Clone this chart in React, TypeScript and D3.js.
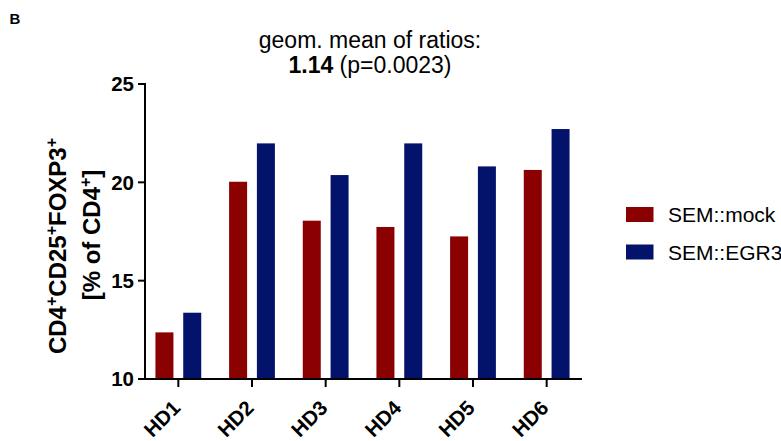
import React from "react";
import * as d3 from "d3";

const categories = ["HD1", "HD2", "HD3", "HD4", "HD5", "HD6"];
const mockValues = [12.37, 20.03, 18.05, 17.73, 17.25, 20.63];
const egr3Values = [13.37, 21.98, 20.37, 21.98, 20.81, 22.71];
const seriesNames = ["SEM::mock", "SEM::EGR3"];
const yTicks = [10, 15, 20, 25];

const RED = "#8b0000";
const BLUE = "#03126a";
const FONT = "'Liberation Sans', Arial, sans-serif";

export default function App() {
  const W = 781, H = 441;
  const axisLeft = 145, axisRight = 582;
  const y = d3.scaleLinear().domain([10, 25]).range([379, 84]);
  const x = d3.scaleBand<string>().domain(categories).range([141.5, 583.5]);
  const barW = 18;
  const offs = [-13.9, 13.9];
  const colors = [RED, BLUE];
  const series = [mockValues, egr3Values];

  return (
    <svg width={W} height={H} style={{ position: "absolute", left: 0, top: 0, background: "#fff" }} fontFamily={FONT}>
      <text x={9.5} y={24} fontSize={15} fontWeight="bold">B</text>
      <text x={370} y={48} fontSize={23} textAnchor="middle">geom. mean of ratios:</text>
      <text x={370} y={73} fontSize={23} textAnchor="middle">
        <tspan fontWeight="bold">1.14</tspan> (p=0.0023)
      </text>

      {series.map((vals, si) =>
        vals.map((v, i) => {
          const cx = x(categories[i])! + x.bandwidth() / 2 + offs[si];
          return (
            <rect key={si + "-" + i} x={cx - barW / 2} y={y(v)} width={barW} height={y(10) - y(v)} fill={colors[si]} />
          );
        })
      )}

      {/* y axis */}
      <line x1={axisLeft} x2={axisLeft} y1={y(25) - 1} y2={y(10) + 1} stroke="#000" strokeWidth={2} />
      {yTicks.map((t) => (
        <g key={t}>
          <line x1={axisLeft - 7} x2={axisLeft} y1={y(t)} y2={y(t)} stroke="#000" strokeWidth={2} />
          <text x={axisLeft - 11} y={y(t)} dy="0.36em" fontSize={20.5} fontWeight="bold" textAnchor="end">{t}</text>
        </g>
      ))}

      {/* x axis */}
      <line x1={axisLeft - 1} x2={axisRight} y1={y(10)} y2={y(10)} stroke="#000" strokeWidth={2} />
      {categories.map((c) => {
        const cx = x(c)! + x.bandwidth() / 2;
        return (
          <g key={c}>
            <line x1={cx} x2={cx} y1={y(10)} y2={y(10) + 8} stroke="#000" strokeWidth={2} />
            <text transform={`translate(${cx - 7},${y(10) + 20}) rotate(-45)`} fontSize={20.5} fontWeight="bold" textAnchor="end" dy="0.7em">{c}</text>
          </g>
        );
      })}

      {/* y title */}
      <text transform={`translate(66,246) rotate(-90)`} fontSize={24} fontWeight="bold" textAnchor="middle">
        CD4<tspan dy="-9" fontSize={16}>+</tspan><tspan dy="9">CD25</tspan><tspan dy="-9" fontSize={16}>+</tspan><tspan dy="9">FOXP3</tspan><tspan dy="-9" fontSize={16}>+</tspan>
      </text>
      <text transform={`translate(100,235) rotate(-90)`} fontSize={24} fontWeight="bold" textAnchor="middle">
        [% of CD4<tspan dy="-9" fontSize={16}>+</tspan><tspan dy="9">]</tspan>
      </text>

      {/* legend */}
      {seriesNames.map((n, i) => (
        <g key={n}>
          <rect x={626} y={207 + i * 37.5} width={27.5} height={15} fill={colors[i]} />
          <text x={668} y={222 + i * 37.5} fontSize={21}>{n}</text>
        </g>
      ))}
    </svg>
  );
}
